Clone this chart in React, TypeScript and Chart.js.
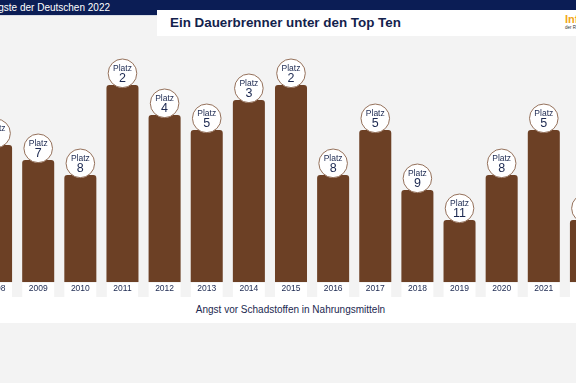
import React, { useEffect, useRef } from "react";
import { Chart, registerables } from "chart.js";

Chart.register(...registerables);

const years = ["2008", "2009", "2010", "2011", "2012", "2013", "2014", "2015", "2016", "2017", "2018", "2019", "2020", "2021", "2022"];
const platz = [6, 7, 8, 2, 4, 5, 3, 2, 8, 5, 9, 11, 8, 5, 11];
const RANK_BASE = 15.13;

const headerText = "Die größten Ängste der Deutschen 2022";
const titleText = "Ein Dauerbrenner unter den Top Ten";
const seriesLabel = "Angst vor Schadstoffen in Nahrungsmitteln";

const FONT = '"Liberation Sans", Arial, Helvetica, sans-serif';
const NAVY = "#0b1d55";
const TEXT_NAVY = "#1b2850";
const BROWN = "#6c4025";

const circlePlugin = {
  id: "platzCircles",
  afterDatasetsDraw(chart: any) {
    const ctx = chart.ctx;
    const meta = chart.getDatasetMeta(0);
    ctx.save();
    meta.data.forEach((bar: any, i: number) => {
      const { x, y } = bar.getProps(["x", "y"], true);
      const cy = y - 11.7;
      ctx.beginPath();
      ctx.arc(x, cy, 14.3, 0, Math.PI * 2);
      ctx.fillStyle = "#ffffff";
      ctx.fill();
      ctx.lineWidth = 1;
      ctx.strokeStyle = "#94705a";
      ctx.stroke();
      ctx.fillStyle = TEXT_NAVY;
      ctx.textAlign = "center";
      ctx.textBaseline = "middle";
      ctx.font = `8.5px ${FONT}`;
      ctx.fillText("Platz", x, cy - 5);
      ctx.font = `12.5px ${FONT}`;
      ctx.fillText(String(platz[i]), x, cy + 5.7);
    });
    ctx.restore();
  },
};

export default function App() {
  const ref = useRef<HTMLCanvasElement | null>(null);

  useEffect(() => {
    if (!ref.current) return;
    const chart = new Chart(ref.current, {
      type: "bar",
      data: {
        labels: years,
        datasets: [
          {
            data: platz,
            base: RANK_BASE,
            backgroundColor: BROWN,
            borderRadius: 3,
            barPercentage: 0.76,
            categoryPercentage: 1,
          } as any,
        ],
      },
      options: {
        responsive: false,
        animation: false,
        devicePixelRatio: 1,
        layout: { padding: { top: 15, bottom: 0, left: 0, right: 0 } },
        plugins: { legend: { display: false }, tooltip: { enabled: false } },
        scales: {
          y: { type: "linear", reverse: true, min: 0, max: RANK_BASE, display: false },
          x: {
            grid: { display: false, drawTicks: false },
            border: { display: false },
            ticks: {
              color: TEXT_NAVY,
              font: { size: 8.5, family: FONT },
              padding: 2,
              maxRotation: 0,
              autoSkip: false,
              showLabelBackdrop: true,
              backdropColor: "#ffffff",
              backdropPadding: { top: 1, bottom: 2.8, left: 6.5, right: 6.5 },
            } as any,
            afterFit: (s: any) => {
              s.height = 20;
            },
          },
        },
      },
      plugins: [circlePlugin],
    });
    return () => chart.destroy();
  }, []);

  return (
    <div
      style={{
        position: "fixed",
        left: 0,
        top: 0,
        width: 576,
        height: 383,
        background: "#f3f3f3",
        overflow: "hidden",
        fontFamily: FONT,
      }}
    >
      <div style={{ position: "absolute", left: 0, top: 0, width: 576, height: 15, background: NAVY }} />
      <div style={{ position: "absolute", left: 0, top: 15, width: 576, height: 1, background: "#d9dde6" }} />
      <div
        style={{
          position: "absolute",
          right: 466,
          top: 0,
          height: 15,
          lineHeight: "15px",
          fontSize: 10,
          color: "#ffffff",
          whiteSpace: "nowrap",
        }}
      >
        {headerText}
      </div>
      <div style={{ position: "absolute", left: 157, top: 10, width: 440, height: 26, background: "#ffffff" }} />
      <div
        style={{
          position: "absolute",
          left: 170,
          top: 10,
          height: 26,
          lineHeight: "26px",
          fontSize: 13.4,
          fontWeight: "bold",
          color: "#13224c",
          whiteSpace: "nowrap",
        }}
      >
        {titleText}
      </div>
      <div
        style={{
          position: "absolute",
          left: 565,
          top: 13,
          fontSize: 11,
          lineHeight: "12px",
          fontWeight: "bold",
          color: "#f2a516",
          whiteSpace: "nowrap",
        }}
      >
        Infocenter
      </div>
      <div
        style={{
          position: "absolute",
          left: 565,
          top: 25,
          fontSize: 4.5,
          lineHeight: "5px",
          color: "#333333",
          whiteSpace: "nowrap",
        }}
      >
        der R+V Versicherung
      </div>
      <div style={{ position: "absolute", left: 0, top: 297, width: 576, height: 26, background: "#ffffff" }} />
      <div
        style={{
          position: "absolute",
          left: 0,
          top: 297,
          width: 581,
          height: 26,
          lineHeight: "26px",
          textAlign: "center",
          fontSize: 10,
          color: TEXT_NAVY,
          whiteSpace: "nowrap",
        }}
      >
        {seriesLabel}
      </div>
      <canvas
        ref={ref}
        width={632}
        height={262}
        style={{ position: "absolute", left: -25, top: 40, width: 632, height: 262 }}
      />
    </div>
  );
}
